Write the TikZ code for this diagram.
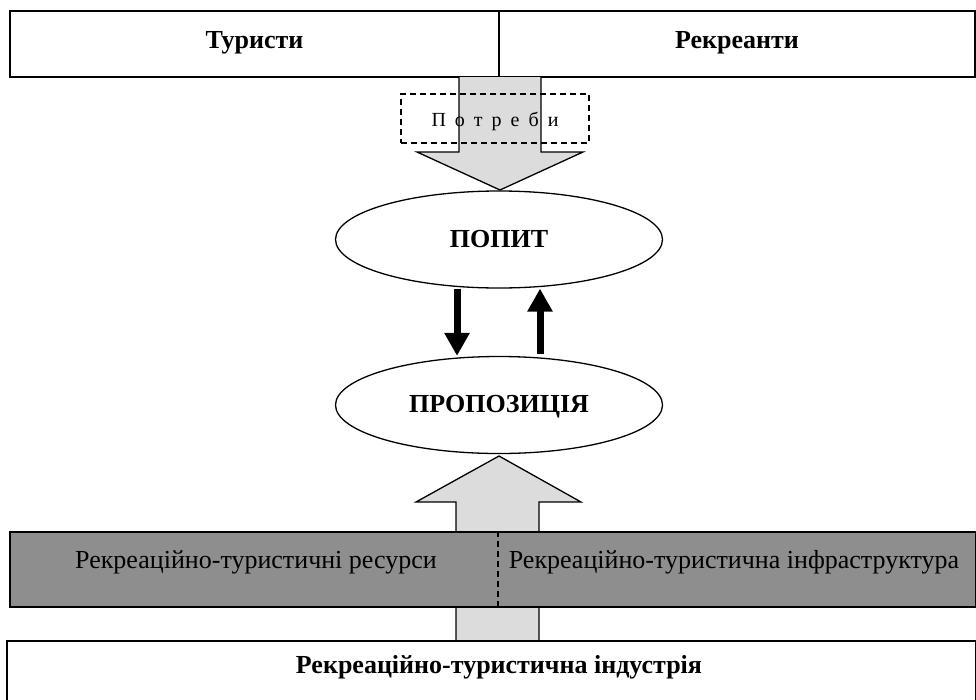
\documentclass[tikz,border=0pt]{standalone}
\usepackage{fontspec}
\setmainfont{Liberation Serif}
\usetikzlibrary{shapes.geometric,arrows.meta,calc}
\definecolor{arrowgray}{HTML}{DCDCDC}
\definecolor{bandgray}{HTML}{8E8E8E}
\tikzset{
  cell/.style={draw, line width=1.5pt, inner sep=0pt, font=\fontsize{26}{30}\selectfont\bfseries,
    text height=17pt, text depth=8pt},
  ell/.style={draw, ellipse, line width=1.3pt, inner sep=0pt, fill=white,
    minimum width=327pt, minimum height=97pt,
    font=\fontsize{26}{30}\selectfont\bfseries, text height=17pt, text depth=2pt},
  bigarrow/.style={line width=1.3pt, line join=miter},
  thinarrow/.style={line width=7pt, -{Triangle[width=24pt,length=23pt]}},
  bandtext/.style={anchor=base, inner sep=0pt, font=\fontsize{26}{30}\selectfont},
  dashbox/.style={draw, dashed, dash pattern=on 6pt off 4pt, line width=1.3pt, inner sep=0pt,
    minimum width=188pt, minimum height=49pt,
    font=\fontsize{20}{24}\selectfont, text height=15pt, text depth=0pt}
}
\begin{document}
\begin{tikzpicture}[x=1pt,y=-1pt]
\useasboundingbox (0,0) rectangle (976,699);
% top boxes
\node[cell, minimum width=489pt, minimum height=66pt] (tur) at (254.5,44) {Туристи};
\node[cell, minimum width=476pt, minimum height=66pt] (rek) at (737,44) {Рекреанти};
% top big arrow
\fill[arrowgray] (459,77) -- (459,152) -- (417,152) -- (500,190) -- (583,152) -- (541,152) -- (541,77) -- cycle;
\draw[bigarrow] (459,77) -- (459,152) -- (417,152) -- (500,190) -- (583,152) -- (541,152) -- (541,77);
% needs box
\node[dashbox] (potr) at (495,118.5) {{\spaceskip=9pt\relax П о т р е б и}};
% ellipses
\node[ell] (popyt) at (499,239.5) {ПОПИТ};
\node[ell] (prop) at (499,405) {ПРОПОЗИЦІЯ};
% exchange arrows
\draw[thinarrow] (popyt.south -| 457,0) -- (prop.north -| 457,0);
\draw[thinarrow] ($(prop.north -| 540,0)+(0,-2)$) -- (popyt.south -| 540,0);
% bottom big arrow
\fill[arrowgray] (456,641) -- (456,502) -- (416,502) -- (499,456) -- (581,502) -- (539,502) -- (539,641) -- cycle;
\draw[bigarrow] (456,641) -- (456,502) -- (416,502) -- (499,456) -- (581,502) -- (539,502) -- (539,641);
% band
\node[draw, line width=1.2pt, fill=bandgray, inner sep=0pt, minimum width=966pt, minimum height=75pt] (band) at (493,569.5) {};
\draw[dashed, dash pattern=on 6pt off 4pt, line width=1.2pt] (band.north -| 498,0) -- (band.south -| 498,0);
\node[bandtext] (res) at (256,568) {Рекреаційно-туристичні ресурси};
\node[bandtext] (infra) at (734,568) {Рекреаційно-туристична інфраструктура};
% bottom box
\node[draw, line width=1.5pt, fill=white, inner sep=0pt, minimum width=969pt, minimum height=80pt] (ind) at (491.5,681) {};
\node[bandtext, font=\fontsize{26}{30}\selectfont\bfseries] (indt) at (499,673) {Рекреаційно-туристична індустрія};
\end{tikzpicture}
\end{document}
